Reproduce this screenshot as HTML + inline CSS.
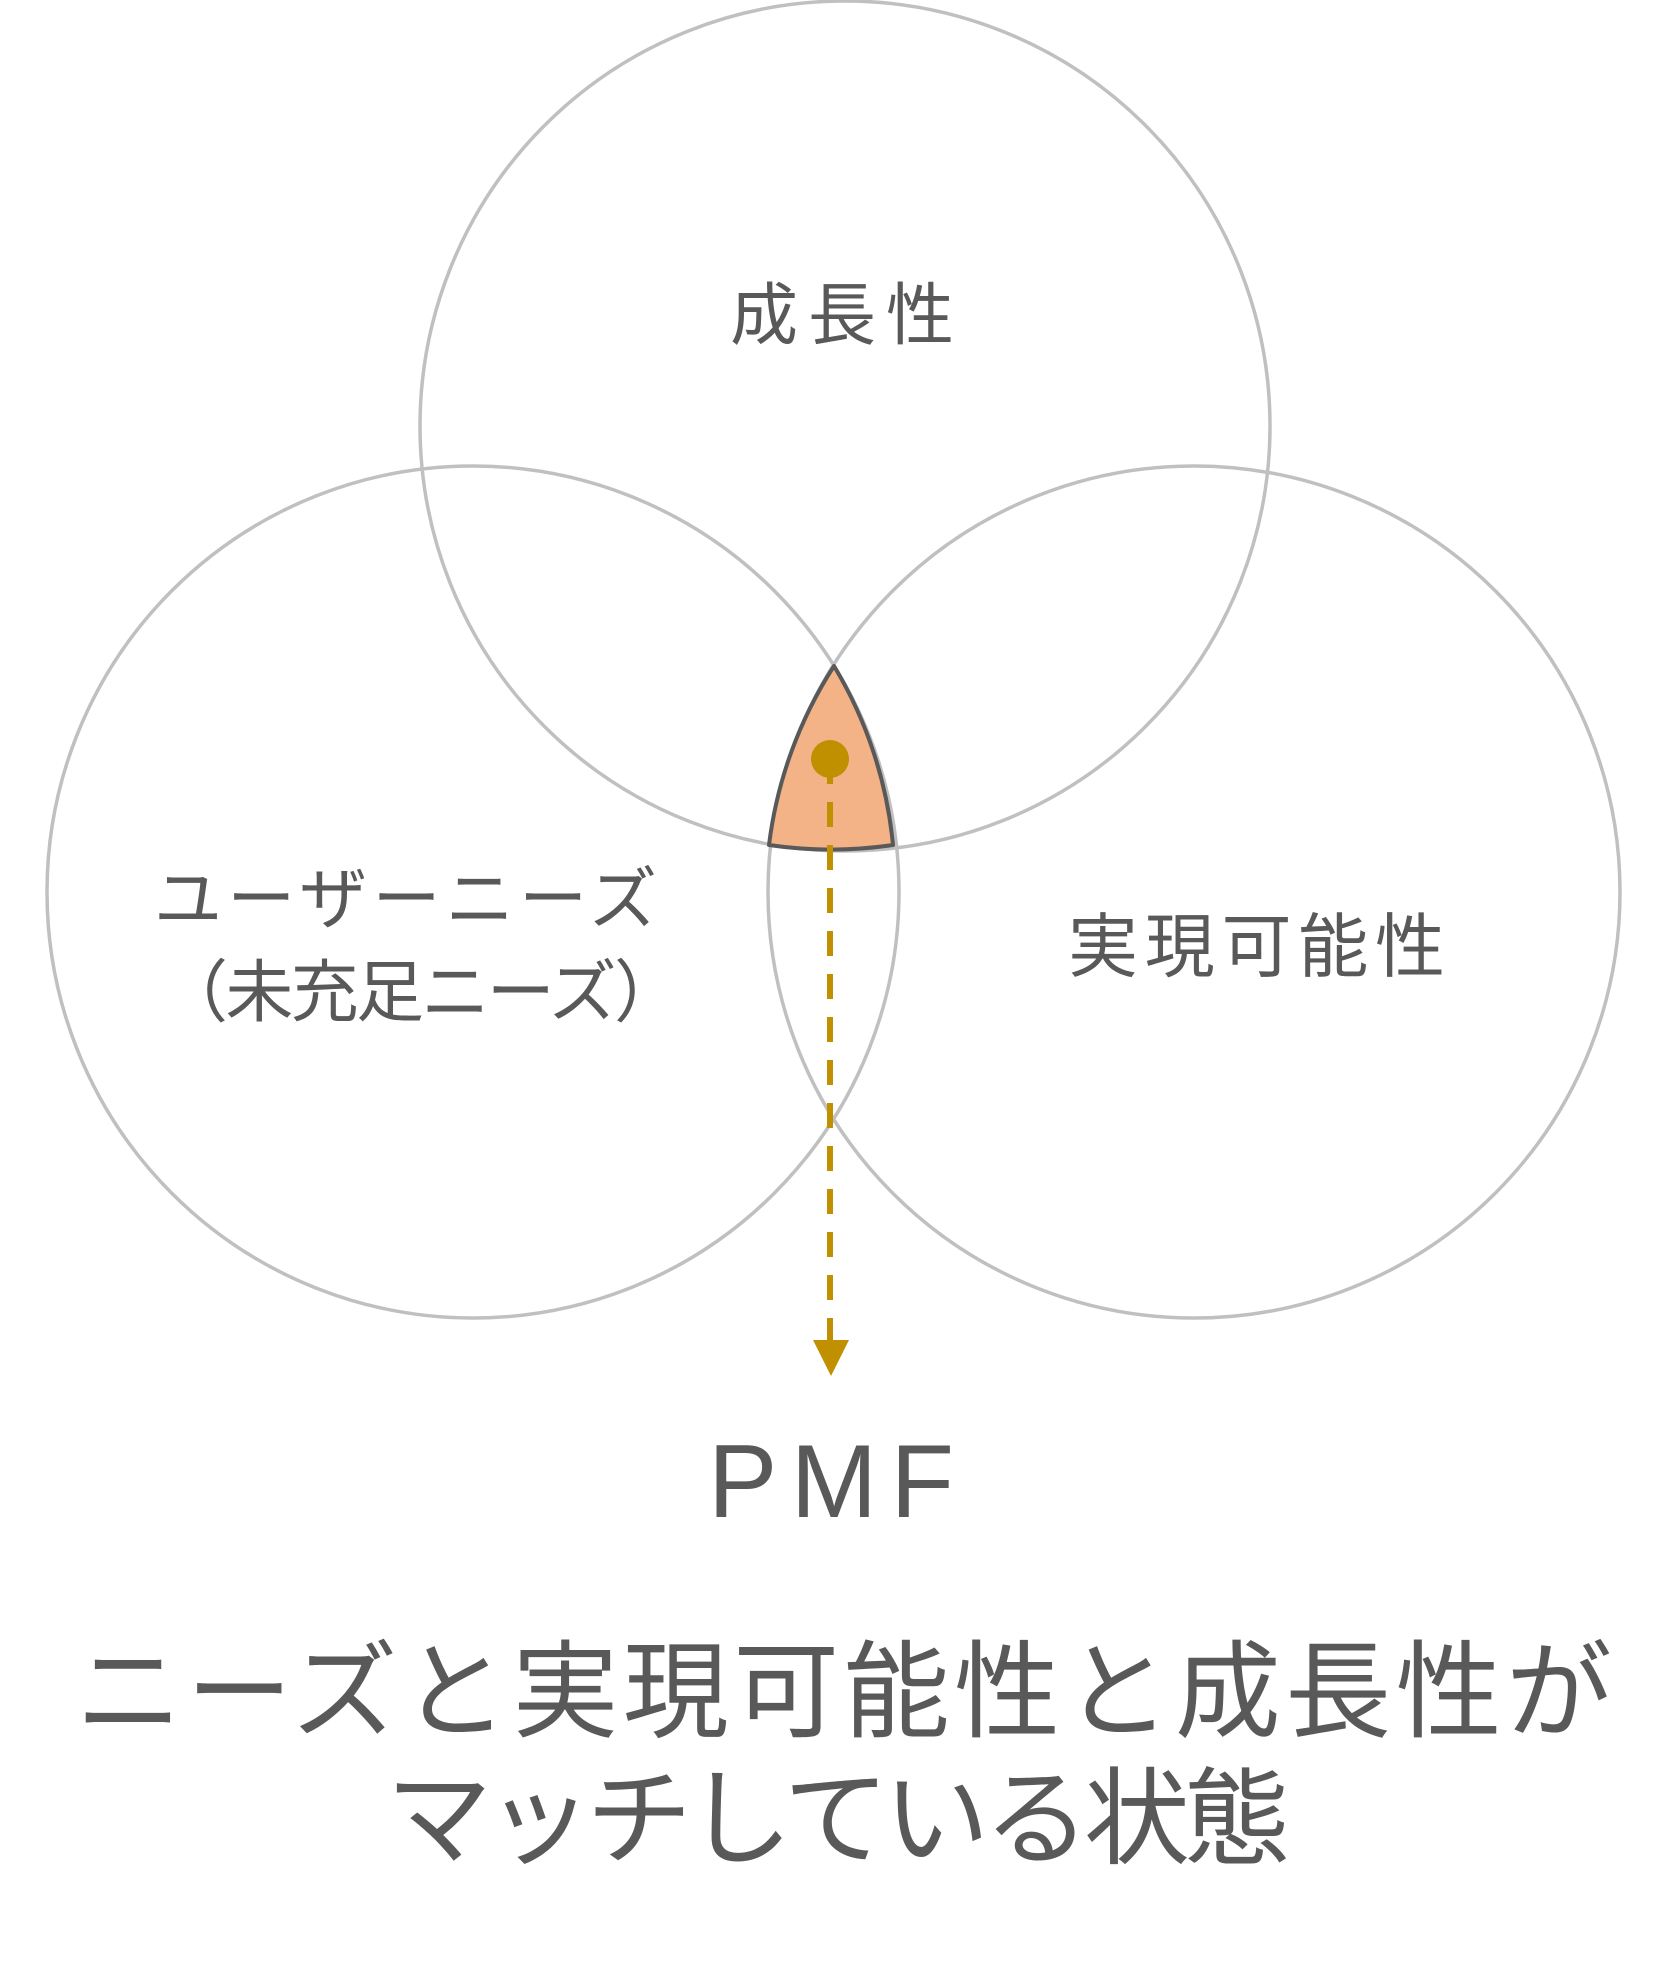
<!DOCTYPE html>
<html><head><meta charset="utf-8">
<style>
html,body{margin:0;padding:0;background:#fff;}
svg{display:block;}
text{font-family:"Liberation Sans","Noto Sans CJK JP",sans-serif;fill:#595959;}
</style></head>
<body>
<svg width="1679" height="1976" viewBox="0 0 1679 1976" xmlns="http://www.w3.org/2000/svg">
<g fill="none" stroke="#c0c0c0" stroke-width="3.5">
<circle cx="845" cy="426" r="425"/>
<circle cx="473" cy="892" r="426"/>
<circle cx="1194" cy="892" r="426"/>
</g>
<path d="M834 666 A426 426 0 0 0 769 845 A425 425 0 0 0 893 845 A426 426 0 0 0 834 666 Z" fill="#f4b386" stroke="#595959" stroke-width="4" stroke-linejoin="round"/>
<circle cx="830" cy="759" r="19" fill="#c09000"/>
<line x1="830" y1="759" x2="830" y2="1342" stroke="#c09000" stroke-width="6" stroke-dasharray="25 18"/>
<polygon points="813,1340 849,1340 831,1376" fill="#c09000"/>
<text x="842" y="339" font-size="68" text-anchor="middle" textLength="224" lengthAdjust="spacing">成長性</text>
<text x="154" y="923" font-size="68" textLength="503" lengthAdjust="spacing">ユーザーニーズ</text>
<text x="160" y="1016" font-size="68" textLength="522" lengthAdjust="spacing">（未充足ニーズ）</text>
<text x="1068" y="971" font-size="70" textLength="377" lengthAdjust="spacing">実現可能性</text>
<text x="708" y="1517" font-size="104" textLength="246" lengthAdjust="spacing">PMF</text>
<text x="76" y="1729" font-size="106" textLength="1536" lengthAdjust="spacing">ニーズと実現可能性と成長性が</text>
<text x="386" y="1856" font-size="106" textLength="904" lengthAdjust="spacing">マッチしている状態</text>
</svg>
</body></html>
